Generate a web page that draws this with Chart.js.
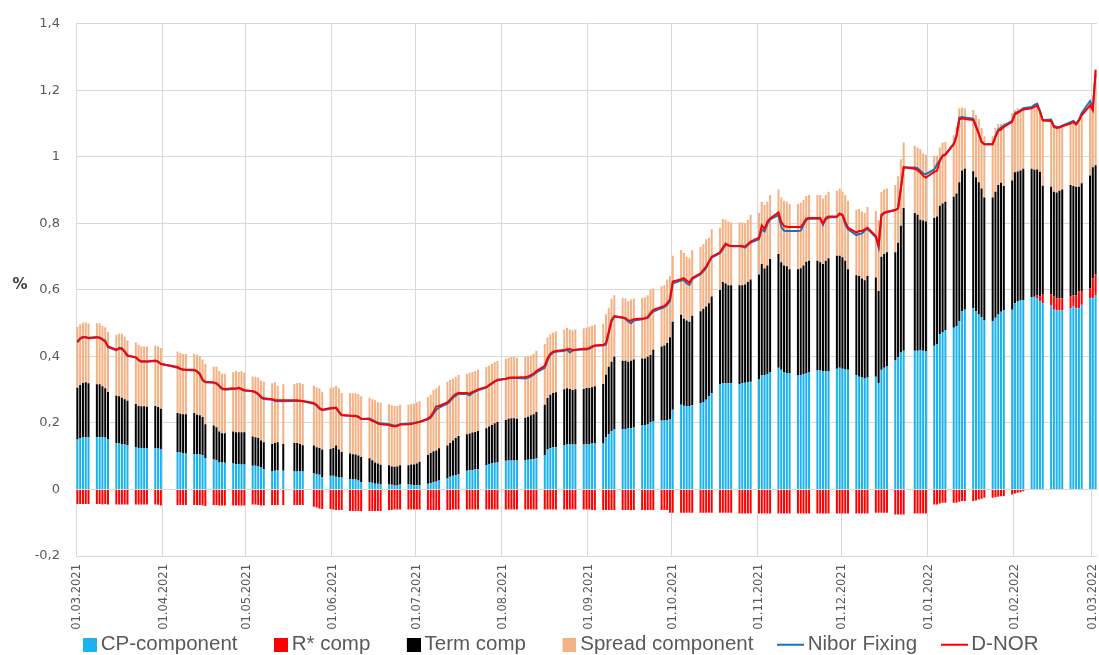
<!DOCTYPE html>
<html>
<head>
<meta charset="utf-8">
<script src="https://cdn.jsdelivr.net/npm/chart.js@4.4.1/dist/chart.umd.min.js"></script>
<style>
html,body{margin:0;padding:0;overflow:hidden;background:#fff}
#wrap{position:relative;width:1099px;height:655px;overflow:hidden}
canvas{display:block}
</style>
</head>
<body>
<div id="wrap"><canvas id="c" width="1099" height="665"></canvas></div>
<script>
// ---- calendar (category axis: every calendar day, bars only on fixing days) ----
const firstDay = [2021, 2, 1];   // 01.03.2021
const lastDay  = [2022, 2, 2];   // 02.03.2022
const noFixingDays = ['2021-04-01','2021-04-02','2021-04-05','2021-05-13','2021-05-17','2021-05-24','2021-12-24'];
const monthTickLabels = ['01.03.2021','01.04.2021','01.05.2021','01.06.2021','01.07.2021','01.08.2021','01.09.2021','01.10.2021','01.11.2021','01.12.2021','01.01.2022','01.02.2022','01.03.2022'];
const yTickValues = [-0.2, 0, 0.2, 0.4, 0.6, 0.8, 1, 1.2, 1.4];

// ---- series values, one per fixing day (weeks on each line) ----
const cpComponent = [
.150,.155,.157,.157,.157, .157,.157,.158,.156,.152, .140,.138,.137,.135,.133, .128,.125,.125,.125,.125,
.125,.123,.120, .113,.111,.108,.108, .107,.107,.105,.103,.095, .090,.088,.081,.081,.080, .078,.076,.076,.075,.075,
.071,.071,.069,.066,.061, .054,.056,.058,.056, .054,.054,.054,.054, .048,.046,.044,.037,
.041,.041,.038,.036,.036, .031,.030,.030,.027,.022, .022,.020,.017,.017,.015, .015,.014,.012,.012,.015,
.015,.014,.013,.013,.013, .017,.019,.022,.024,.027, .033,.038,.041,.043,.046, .056,.058,.058,.061,.061,
.073,.076,.078,.080,.081, .086,.087,.087,.087,.087, .088,.089,.090,.091,.095, .104,.120,.124,.127,.127,
.134,.135,.135,.135,.135, .135,.136,.137,.138,.138, .138,.158,.167,.175,.180, .182,.182,.184,.185,.186,
.192,.194,.195,.202,.204, .207,.207,.208,.212,.240, .255,.252,.250,.250,.253, .260,.263,.270,.280,.290,
.316,.319,.319,.319,.319, .316,.319,.321,.322,.324, .331,.344,.344,.347,.353, .366,.360,.353,.350,.350,
.344,.344,.347,.349,.353, .358,.358,.356,.356,.356, .363,.366,.363,.361,.360, .344,.339,.337,.334,.337,
.339,.320,.360,.366,.370, .388,.398,.412,.417, .417,.417,.419,.417,.415, .432,.437,.467,.472,.479,
.486,.491,.506,.536,.540, .545,.536,.526,.518,.508, .506,.516,.526,.534,.539, .540,.560,.565,.568,.570,
.579,.579,.576,.566,.560, .553,.540,.538,.538,.538, .545,.550,.545,.545,.555, .575,.575,.583
];
const rStarComp = [
-.044,-.044,-.044,-.044,-.044, -.044,-.044,-.045,-.044,-.045, -.045,-.045,-.045,-.045,-.045, -.045,-.045,-.045,-.045,-.045,
-.045,-.046,-.048, -.047,-.047,-.047,-.047, -.047,-.047,-.047,-.048,-.050, -.047,-.047,-.048,-.048,-.048, -.048,-.048,-.048,-.048,-.048,
-.045,-.045,-.047,-.048,-.048, -.047,-.047,-.047,-.047, -.047,-.047,-.047,-.047, -.052,-.054,-.057,-.059,
-.059,-.060,-.062,-.062,-.062, -.065,-.065,-.065,-.065,-.065, -.065,-.065,-.065,-.065,-.065, -.062,-.062,-.060,-.060,-.060,
-.060,-.060,-.060,-.060,-.060, -.062,-.062,-.062,-.062,-.062, -.062,-.062,-.060,-.060,-.060, -.060,-.060,-.060,-.060,-.060,
-.060,-.060,-.060,-.060,-.060, -.060,-.060,-.060,-.060,-.060, -.060,-.060,-.060,-.060,-.060, -.060,-.060,-.060,-.060,-.060,
-.060,-.060,-.060,-.060,-.060, -.060,-.060,-.060,-.062,-.062, -.062,-.062,-.062,-.062,-.062, -.062,-.062,-.062,-.062,-.062,
-.062,-.062,-.062,-.062,-.062, -.062,-.062,-.062,-.070,-.070, -.070,-.070,-.070,-.070,-.070, -.070,-.070,-.070,-.070,-.070,
-.070,-.070,-.070,-.070,-.070, -.072,-.072,-.072,-.072,-.072, -.072,-.072,-.072,-.072,-.072, -.072,-.072,-.072,-.072,-.072,
-.072,-.072,-.072,-.072,-.072, -.072,-.072,-.072,-.072,-.072, -.072,-.072,-.072,-.072,-.072, -.072,-.072,-.072,-.072,-.072,
-.070,-.070,-.070,-.070,-.070, -.075,-.075,-.075,-.075, -.072,-.072,-.072,-.072,-.072, -.045,-.045,-.042,-.040,-.040,
-.040,-.040,-.037,-.035,-.035, -.035,-.033,-.030,-.028,-.025, -.025,-.023,-.022,-.020,-.020, -.015,-.012,-.010,-.008,-.005,
.000,.003,.008,.015,.028, .034,.040,.037,.037,.037, .035,.033,.038,.050,.042, .030,.060,.065
];
const termComp = [
.156,.159,.163,.165,.162, .159,.159,.152,.148,.141, .142,.142,.139,.136,.134, .129,.126,.125,.125,.124,
.126,.125,.123, .117,.117,.118,.118, .123,.118,.118,.115,.101, .102,.099,.093,.088,.089, .096,.096,.096,.097,.097,
.088,.086,.086,.081,.081, .083,.084,.084,.081, .086,.086,.083,.079, .084,.081,.081,.083,
.081,.084,.094,.084,.077, .077,.076,.075,.075,.076, .072,.068,.064,.061,.059, .058,.055,.056,.057,.058,
.058,.061,.062,.065,.070, .087,.091,.093,.093,.097, .099,.102,.106,.112,.115, .110,.110,.113,.112,.115,
.111,.113,.116,.119,.122, .123,.126,.127,.127,.126, .128,.130,.133,.135,.138, .151,.155,.161,.163,.165,
.167,.169,.167,.164,.166, .167,.169,.168,.169,.172, .179,.187,.202,.209,.219, .205,.205,.200,.202,.205,
.202,.200,.204,.202,.216, .223,.226,.232,.246,.264, .270,.261,.258,.254,.269, .276,.280,.280,.280,.290,
.284,.305,.300,.295,.295, .298,.295,.295,.302,.307, .315,.334,.320,.326,.340, .342,.323,.320,.321,.312,
.318,.321,.326,.336,.335, .330,.325,.322,.332,.339, .340,.337,.335,.327,.302, .300,.303,.297,.295,.305,
.298,.277,.340,.342,.343, .325,.344,.381,.429, .414,.409,.392,.392,.391, .384,.384,.386,.388,.386,
.394,.399,.418,.423,.424, .412,.403,.398,.387,.370, .372,.379,.389,.388,.373, .389,.394,.391,.391,.394,
.385,.379,.378,.374,.325, .323,.315,.318,.323,.327, .335,.329,.327,.315,.324, .339,.334,.327
];
const spreadComp = [
.183,.183,.181,.180,.180, .184,.184,.182,.184,.181, .183,.189,.192,.189,.181, .185,.184,.180,.180,.181,
.182,.182,.182, .185,.182,.181,.181, .178,.180,.178,.173,.182, .177,.182,.182,.179,.179, .179,.184,.182,.184,.179,
.180,.182,.182,.180,.182, .182,.182,.170,.179, .177,.180,.183,.184, .180,.180,.179,.174,
.182,.182,.180,.184,.177, .182,.183,.184,.185,.182, .182,.183,.187,.185,.187, .183,.184,.183,.182,.182,
.182,.182,.183,.184,.182, .174,.175,.184,.187,.188, .192,.189,.187,.184,.183, .182,.183,.182,.183,.184,
.184,.184,.184,.184,.183, .184,.183,.184,.184,.183, .182,.181,.180,.182,.184, .182,.182,.182,.182,.184,
.180,.182,.179,.180,.180, .183,.182,.184,.185,.185, .181,.182,.177,.190,.185, .189,.187,.182,.184,.183,
.182,.184,.185,.197,.184, .181,.181,.191,.183,.199, .195,.199,.192,.191,.198, .194,.194,.202,.197,.202,
.187,.189,.192,.192,.189, .189,.189,.185,.187,.195, .185,.187,.191,.192,.192, .194,.195,.195,.194,.196,
.196,.197,.197,.197,.197, .197,.202,.197,.197,.200, .195,.202,.197,.197,.206, .197,.201,.202,.202,.207,
.200,.213,.195,.194,.192, .202,.200,.200,.197, .202,.202,.212,.201,.200, .187,.182,.175,.183,.180,
.185,.202,.222,.189,.182, .184,.187,.190,.182,.184, .184,.192,.184,.177,.190, .202,.187,.190,.185,.182,
.182,.187,.189,.181,.194, .201,.192,.194,.189,.187, .192,.190,.189,.192,.197, .216,.176,.287
];
const niborFixing = [
.442,.455,.459,.457,.456, .458,.456,.452,.447,.428, .418,.426,.425,.413,.401, .398,.388,.384,.386,.384,
.386,.385,.378, .366,.362,.361,.359, .358,.356,.345,.328,.322, .321,.318,.310,.302,.300, .302,.303,.306,.300,.297,
.296,.291,.286,.276,.272, .270,.266,.265,.265, .266,.266,.266,.265, .258,.252,.243,.238,
.243,.244,.245,.232,.223, .222,.222,.222,.219,.212, .213,.209,.205,.201,.199, .196,.194,.192,.193,.196,
.198,.199,.200,.202,.203, .211,.216,.228,.240,.246, .258,.266,.276,.282,.288, .287,.283,.290,.294,.298,
.306,.312,.318,.324,.328, .332,.334,.335,.335,.335, .334,.336,.340,.345,.352, .366,.388,.404,.412,.414,
.417,.420,.412,.418,.419, .421,.421,.423,.428,.432, .433,.436,.470,.505,.520, .516,.513,.505,.500,.508,
.512,.514,.515,.527,.535, .545,.548,.555,.566,.620, .628,.630,.620,.615,.632, .647,.656,.666,.682,.697,
.710,.722,.736,.733,.731, .731,.730,.727,.735,.742, .752,.782,.776,.798,.812, .825,.790,.778,.777,.777,
.777,.778,.795,.810,.814, .814,.814,.796,.812,.818, .819,.828,.824,.798,.782, .765,.768,.770,.778,.784,
.758,.728,.822,.830,.833, .840,.845,.905,.968, .968,.966,.958,.950,.948, .962,.978,.990,1.004,1.008,
1.040,1.064,1.118,1.120,1.118, 1.115,1.095,1.070,1.045,1.038, 1.038,1.062,1.082,1.088,1.094, 1.108,1.131,1.135,1.140,1.146,
1.150,1.156,1.160,1.138,1.111, 1.112,1.094,1.090,1.090,1.094, 1.104,1.108,1.100,1.112,1.132, 1.168,1.148,1.250
];
const dNor = [
.445,.453,.457,.458,.455, .457,.457,.450,.445,.430, .420,.424,.423,.415,.403, .397,.390,.385,.385,.385,
.388,.384,.377, .368,.363,.360,.360, .360,.355,.348,.330,.324, .322,.320,.312,.304,.302, .304,.303,.305,.302,.299,
.295,.293,.288,.278,.274, .271,.269,.268,.268, .268,.268,.267,.266, .260,.254,.245,.240,
.245,.245,.246,.234,.224, .222,.221,.221,.218,.213, .211,.206,.203,.198,.196, .194,.191,.190,.191,.195,
.196,.197,.199,.201,.203, .213,.220,.233,.250,.251, .262,.270,.280,.287,.290, .290,.288,.293,.296,.301,
.308,.314,.320,.325,.330, .333,.336,.337,.337,.337, .338,.340,.344,.348,.356, .372,.395,.408,.414,.416,
.419,.421,.422,.419,.420, .423,.423,.425,.430,.433, .435,.440,.475,.510,.521, .517,.515,.508,.508,.512,
.514,.515,.518,.530,.540, .549,.552,.560,.572,.625, .632,.635,.628,.622,.636, .650,.660,.670,.685,.700,
.713,.727,.739,.734,.732, .732,.732,.730,.738,.745, .757,.794,.783,.805,.815, .833,.805,.792,.790,.789,
.789,.789,.801,.814,.816, .816,.816,.800,.816,.821, .821,.830,.826,.805,.787, .772,.777,.777,.782,.787,
.762,.733,.826,.832,.835, .840,.845,.905,.969, .964,.960,.953,.943,.938, .955,.958,.988,1.003,1.006,
1.038,1.062,1.112,1.116,1.114, 1.111,1.090,1.070,1.045,1.038, 1.038,1.060,1.078,1.082,1.090, 1.105,1.128,1.132,1.138,1.142,
1.146,1.150,1.154,1.136,1.109, 1.108,1.090,1.087,1.088,1.092, 1.100,1.105,1.097,1.108,1.125, 1.155,1.140,1.262
];

// ---- build the calendar and spread the fixing-day values over it ----
const pad2 = n => (n < 10 ? '0' : '') + n;
const dayLabels = [], isFixingDay = [];
for (let t = Date.UTC(...firstDay); t <= Date.UTC(...lastDay); t += 86400000) {
  const d = new Date(t);
  const iso = d.getUTCFullYear() + '-' + pad2(d.getUTCMonth() + 1) + '-' + pad2(d.getUTCDate());
  const wd = d.getUTCDay();
  dayLabels.push(pad2(d.getUTCDate()) + '.' + pad2(d.getUTCMonth() + 1) + '.' + d.getUTCFullYear());
  isFixingDay.push(wd !== 0 && wd !== 6 && !noFixingDays.includes(iso));
}
function onCalendar(values) {
  let k = 0;
  return isFixingDay.map(f => (f ? values[k++] : null));
}

const fontAxis = 'DejaVu Sans';
const grey = '#595959';
const gridGrey = '#d9d9d9';

function swatch(color, isLine) {
  const c = document.createElement('canvas');
  c.width = 27; c.height = 14;
  const g = c.getContext('2d');
  if (isLine) {
    g.strokeStyle = color; g.lineWidth = 2;
    g.beginPath(); g.moveTo(0, 7); g.lineTo(27, 7); g.stroke();
  } else {
    g.fillStyle = color; g.fillRect(13, 0, 14, 14);
  }
  return c;
}

const barCommon = { type: 'bar', stack: 'components', order: 2, barPercentage: 0.72, categoryPercentage: 1.0, borderWidth: 0 };
const datasets = [
  Object.assign({ label: 'CP-component', data: onCalendar(cpComponent), backgroundColor: '#1DB2EE' }, barCommon),
  Object.assign({ label: 'R* comp', data: onCalendar(rStarComp), backgroundColor: '#FF0000' }, barCommon),
  Object.assign({ label: 'Term comp', data: onCalendar(termComp), backgroundColor: '#000000' }, barCommon),
  Object.assign({ label: 'Spread component', data: onCalendar(spreadComp), backgroundColor: '#F4B183' }, barCommon),
  { type: 'line', label: 'Nibor Fixing', data: onCalendar(niborFixing), borderColor: '#1F6FC0', backgroundColor: '#1F6FC0',
    borderWidth: 2, pointRadius: 0, spanGaps: true, tension: 0, stack: 'nibor', order: 1 },
  { type: 'line', label: 'D-NOR', data: onCalendar(dNor), borderColor: '#FF0000', backgroundColor: '#FF0000',
    borderWidth: 2, pointRadius: 0, spanGaps: true, tension: 0, stack: 'dnor', order: 0 }
];

const percentLabel = {
  id: 'percentLabel',
  afterDraw(chart) {
    const g = chart.ctx;
    g.save();
    g.font = 'bold 15px ' + fontAxis;
    g.fillStyle = '#404040';
    g.textAlign = 'center';
    g.textBaseline = 'middle';
    g.fillText('%', 20, 285);
    g.restore();
  }
};

new Chart(document.getElementById('c'), {
  type: 'bar',
  data: { labels: dayLabels, datasets },
  options: {
    responsive: false,
    animation: false,
    events: [],
    layout: { padding: { top: 14, right: 2, left: 18, bottom: 0 } },
    plugins: {
      tooltip: { enabled: false },
      legend: {
        position: 'bottom',
        labels: {
          usePointStyle: true, boxWidth: 14, boxHeight: 14, padding: 30,
          color: grey, font: { family: 'Liberation Sans', size: 20.5 },
          sort: (a, b) => a.datasetIndex - b.datasetIndex,
          generateLabels(chart) {
            const items = Chart.defaults.plugins.legend.labels.generateLabels(chart);
            items.forEach(it => {
              const ds = chart.data.datasets[it.datasetIndex];
              const isLine = ds.type === 'line';
              it.pointStyle = swatch(isLine ? ds.borderColor : ds.backgroundColor, isLine);
              it.lineWidth = 0;
            });
            return items;
          }
        }
      }
    },
    scales: {
      x: {
        stacked: true,
        offset: true,
        border: { display: false },
        grid: {
          offset: true, drawTicks: false, lineWidth: 1,
          color: c => (c.tick && c.tick.label) ? gridGrey : 'rgba(0,0,0,0)'
        },
        ticks: {
          autoSkip: false, maxRotation: 90, minRotation: 90, padding: 8,
          color: grey, font: { family: fontAxis, size: 11.5 },
          callback: (v, i) => (monthTickLabels.includes(dayLabels[i]) ? dayLabels[i] : '')
        },
        afterFit(s) {
          s.height = 48.5; s.paddingLeft = 0; s.paddingRight = 0;
          s._computeLabelArea = () => undefined;   // let the rotated date labels run below the axis box
        }
      },
      y: {
        stacked: true,
        min: -0.2, max: 1.4,
        border: { display: false },
        grid: { color: gridGrey, drawTicks: false, lineWidth: 1 },
        afterBuildTicks(s) { s.ticks = yTickValues.map(v => ({ value: v })); },
        ticks: {
          padding: 16, color: grey, font: { family: fontAxis, size: 13 },
          callback: v => String(Math.round(v * 10) / 10).replace('.', ',')
        },
        afterFit(s) { s.width = 58; }
      }
    }
  },
  plugins: [percentLabel]
});
</script>
</body>
</html>
